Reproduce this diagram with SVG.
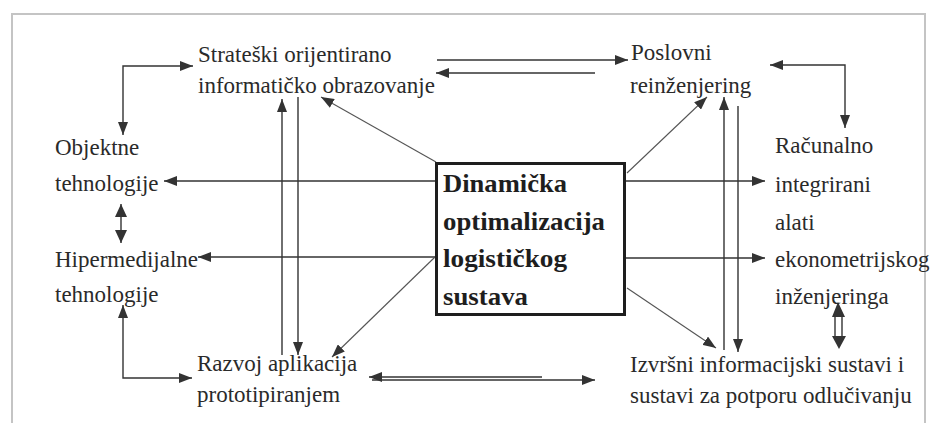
<svg xmlns="http://www.w3.org/2000/svg" width="935" height="423" viewBox="0 0 935 423">
<style>
  .t { font-family: "Liberation Serif", "Times New Roman", "DejaVu Serif", serif; font-size: 23px; fill: #2a2a2a; }
  .b { font-family: "Liberation Serif", "Times New Roman", "DejaVu Serif", serif; font-size: 25px; font-weight: bold; fill: #1e1e1e; }
  .c { fill: none; stroke: #333; stroke-width: 1.4; }
  .d { fill: none; stroke: #555; stroke-width: 1.1; }
  .frame { fill: none; stroke: #c4c4c4; stroke-width: 2; }
  .ah { fill: #333; }
</style>
<defs>
  <marker id="arr" markerUnits="userSpaceOnUse" markerWidth="13" markerHeight="10" refX="13" refY="5" orient="auto-start-reverse">
    <path d="M0,0 L13,5 L0,10 z" fill="#333"/>
  </marker>
  <marker id="arrBig" markerUnits="userSpaceOnUse" markerWidth="13" markerHeight="12" refX="13" refY="6" orient="auto-start-reverse">
    <path d="M0,0 L13,6 L0,12 z" fill="#333"/>
  </marker>
</defs>
<rect x="0" y="0" width="935" height="423" fill="#ffffff"/>
<path class="frame" d="M12,423 L12,14 L925,14 L925,423"/>

<g id="connectors">
  <line class="c" x1="437" y1="60" x2="628" y2="60" marker-end="url(#arr)"/>
  <line class="c" x1="595" y1="73" x2="436" y2="73" marker-end="url(#arr)"/>
  <path class="c" d="M123,135 L123,66 L193,66" marker-start="url(#arr)" marker-end="url(#arr)"/>
  <line class="c" x1="121" y1="204" x2="121" y2="243" stroke-width="2.2" marker-start="url(#arrBig)" marker-end="url(#arrBig)"/>
  <path class="c" d="M123,305 L123,378 L192,378" marker-start="url(#arr)" marker-end="url(#arr)"/>
  <line class="c" x1="282" y1="355" x2="282" y2="99" marker-end="url(#arr)"/>
  <line class="c" x1="298" y1="97" x2="298" y2="355" marker-end="url(#arr)"/>
  <line class="d" x1="436" y1="162" x2="321" y2="97" marker-end="url(#arr)"/>
  <line class="c" x1="436" y1="181" x2="164" y2="181" marker-end="url(#arr)"/>
  <line class="c" x1="436" y1="257" x2="198" y2="257" marker-end="url(#arr)"/>
  <line class="d" x1="435" y1="257" x2="332" y2="357" marker-end="url(#arr)"/>
  <line class="d" x1="627" y1="173" x2="707" y2="97" marker-end="url(#arr)"/>
  <line class="c" x1="625" y1="181" x2="765" y2="181" marker-end="url(#arr)"/>
  <line class="c" x1="625" y1="258" x2="765" y2="258" marker-end="url(#arr)"/>
  <line class="d" x1="627" y1="288" x2="716" y2="348" marker-end="url(#arr)"/>
  <line class="c" x1="724" y1="350" x2="724" y2="97" marker-end="url(#arr)"/>
  <line class="c" x1="738" y1="106" x2="738" y2="352" marker-end="url(#arr)"/>
  <path class="c" d="M770,65 L845,65 L845,128" marker-start="url(#arr)" marker-end="url(#arr)"/>
  <line class="c" x1="835" y1="316" x2="835" y2="338"/>
  <line class="c" x1="842" y1="316" x2="842" y2="338"/>
  <polygon class="ah" points="838,302 832,317 845,317"/>
  <polygon class="ah" points="839,349 832,336 846,336"/>
  <line class="c" x1="542" y1="377" x2="369" y2="377" marker-end="url(#arr)"/>
  <line class="c" x1="372" y1="380" x2="595" y2="380" marker-end="url(#arr)"/>
</g>

<g id="center">
  <rect x="436.5" y="163.5" width="188" height="151" fill="none" stroke="#1e1e1e" stroke-width="3"/>
  <text class="b" x="443" y="192" textLength="124" lengthAdjust="spacingAndGlyphs">Dinamička</text>
  <text class="b" x="443" y="230" textLength="162" lengthAdjust="spacingAndGlyphs">optimalizacija</text>
  <text class="b" x="443" y="267" textLength="124" lengthAdjust="spacingAndGlyphs">logističkog</text>
  <text class="b" x="443" y="305" textLength="85" lengthAdjust="spacingAndGlyphs">sustava</text>
</g>

<g id="strateski">
  <text class="t" x="198" y="62">Strateški orijentirano</text>
  <text class="t" x="198" y="93">informatičko obrazovanje</text>
</g>

<g id="poslovni">
  <text class="t" x="631" y="60">Poslovni</text>
  <text class="t" x="630" y="93">reinženjering</text>
</g>

<g id="objektne">
  <text class="t" x="55" y="155">Objektne</text>
  <text class="t" x="55" y="191">tehnologije</text>
</g>

<g id="hipermedijalne">
  <text class="t" x="55" y="267">Hipermedijalne</text>
  <text class="t" x="55" y="302">tehnologije</text>
</g>

<g id="razvoj">
  <text class="t" x="197" y="371">Razvoj aplikacija</text>
  <text class="t" x="197" y="402">prototipiranjem</text>
</g>

<g id="racunalno">
  <text class="t" x="775" y="153">Računalno</text>
  <text class="t" x="775" y="192">integrirani</text>
  <text class="t" x="775" y="230">alati</text>
  <text class="t" x="775" y="267">ekonometrijskog</text>
  <text class="t" x="775" y="304">inženjeringa</text>
</g>

<g id="izvrsni">
  <text class="t" x="630" y="372">Izvršni informacijski sustavi i</text>
  <text class="t" x="630" y="403">sustavi za potporu odlučivanju</text>
</g>
</svg>
